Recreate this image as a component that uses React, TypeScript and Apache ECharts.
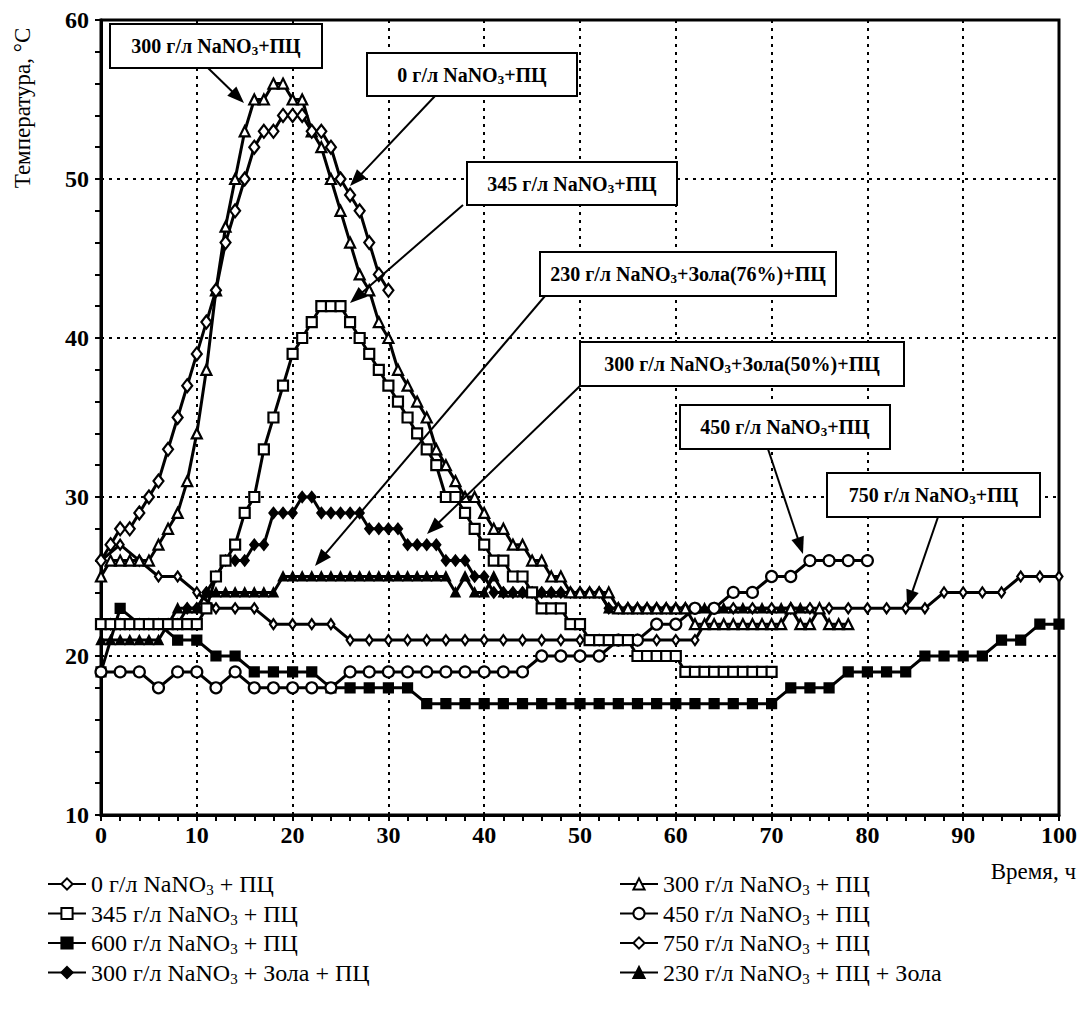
import React, { useEffect, useRef } from 'react';
import * as echarts from 'echarts';

const FONT = '"Liberation Serif", "Times New Roman", serif';

// time grids (hours)
const hours = [0,1,2,3,4,5,6,7,8,9,10,11,12,13,14,15,16,17,18,19,20,21,22,23,24,25,26,27,28,29,30,31,32,33,34,35,36,37,38,39,40,41,42,43,44,45,46,47,48,49,50,51,52,53,54,55,56,57,58,59,60,61,62,63,64,65,66,67,68,69,70,71,72,73,74,75,76,77,78,79,80];
const twoHours = [0,2,4,6,8,10,12,14,16,18,20,22,24,26,28,30,32,34,36,38,40,42,44,46,48,50,52,54,56,58,60,62,64,66,68,70,72,74,76,78,80,82,84,86,88,90,92,94,96,98,100];

// series values (°C)
const v0 = [26,27,28,28,29,30,31,33,35,37,39,41,43,46,48,50,52,53,53,54,54,54,53,53,52,50,49,48,46,44,43];
const v300 = [25,26,26,26,26,26,27,28,29,31,34,38,43,47,50,53,55,55,56,56,55,55,53,52,50,48,46,44,43,41,40,38,37,36,35,33,32,31,30,30,29,28,28,27,27,26,26,25,25,24,24,24,24,24,23,23,23,23,23,23,23,23,22,22,22,22,22,22,22,22,22,22,23,22,22,23,22,22,22];
const v345 = [22,22,22,22,22,22,22,22,22,22,22,23,25,26,27,29,30,33,35,37,39,40,41,42,42,42,41,40,39,38,37,36,35,34,33,32,30,30,29,28,27,26,26,25,25,24,23,23,23,22,22,21,21,21,21,21,20,20,20,20,20,19,19,19,19,19,19,19,19,19,19];
const v450 = [19,19,19,18,19,19,18,19,18,18,18,18,18,19,19,19,19,19,19,19,19,19,19,20,20,20,20,21,21,22,22,23,23,24,24,25,25,26,26,26,26];
const v600 = [19,23,22,22,21,21,20,20,19,19,19,19,18,18,18,18,18,17,17,17,17,17,17,17,17,17,17,17,17,17,17,17,17,17,17,17,18,18,18,19,19,19,19,20,20,20,20,21,21,22,22];
const v750 = [26,27,26,25,25,24,23,23,23,22,22,22,22,21,21,21,21,21,21,21,21,21,21,21,21,21,21,21,21,21,21,21,23,23,23,23,23,23,23,23,23,23,23,23,24,24,24,24,25,25,25];
const v300Z = [22,22,22,22,22,22,22,22,22,23,23,24,25,26,26,26,27,27,29,29,29,30,30,29,29,29,29,29,28,28,28,28,27,27,27,27,26,26,26,25,25,24,24,24,24,24,24,24,24,24,24,24,24,23,23,23,23,23,23,23,23,23,23];
const v230 = [21,21,21,21,21,21,21,22,23,23,23,24,24,24,24,24,24,24,24,25,25,25,25,25,25,25,25,25,25,25,25,25,25,25,25,25,25,24,25,24,24,25,24,24,24,24,24,24,24,24,24,24,24,23,23,23,23,23,23,23,23,23,23,23,23,23,23,23,23,23,23,23,23,23,23];

const xTicks = [0,10,20,30,40,50,60,70,80,90,100];
const yTicks = [10,20,30,40,50,60];

const names = [
  '0 г/л NaNO3 + ПЦ',
  '300 г/л NaNO3 + ПЦ',
  '345 г/л NaNO3 + ПЦ',
  '450 г/л NaNO3 + ПЦ',
  '600 г/л NaNO3 + ПЦ',
  '750 г/л NaNO3 + ПЦ',
  '300 г/л NaNO3 + Зола + ПЦ',
  '230 г/л NaNO3 + ПЦ + Зола',
];

const annLabels = [
  ['300 г/л NaNO', '3', '+ПЦ'],
  ['0 г/л NaNO', '3', '+ПЦ'],
  ['345 г/л NaNO', '3', '+ПЦ'],
  ['230 г/л NaNO', '3', '+Зола(76%)+ПЦ'],
  ['300 г/л NaNO', '3', '+Зола(50%)+ПЦ'],
  ['450 г/л NaNO', '3', '+ПЦ'],
  ['750 г/л NaNO', '3', '+ПЦ'],
];

function pairs(xs: number[], ys: number[]) {
  return ys.map((y, i) => [xs[i], y]);
}

function arrow(x1: number, y1: number, x2: number, y2: number) {
  const dx = x2 - x1, dy = y2 - y1;
  const len = Math.hypot(dx, dy);
  const ux = dx / len, uy = dy / len;
  const L = 17, W = 6.5;
  const bx = x2 - ux * L, by = y2 - uy * L;
  return [
    { type: 'line', z: 100, shape: { x1, y1, x2: bx + ux * 2, y2: by + uy * 2 }, style: { stroke: '#000', lineWidth: 2 } },
    { type: 'polygon', z: 100, shape: { points: [[x2, y2], [bx - uy * W, by + ux * W], [bx + uy * W, by - ux * W]] }, style: { fill: '#000' } },
  ];
}

export default function App() {
  const ref = useRef<HTMLDivElement>(null);
  useEffect(() => {
    if (!ref.current) return;
    const chart = echarts.init(ref.current, undefined, { renderer: 'svg' });

    const mk = (name: string, data: number[][], symbol: string, size: any, filled: boolean) => ({
      name,
      type: 'line',
      data,
      symbol,
      symbolSize: size,
      showSymbol: true,
      lineStyle: { color: '#000', width: 3 },
      itemStyle: { color: filled ? '#000' : '#fff', borderColor: '#000', borderWidth: 2.2 },
      emphasis: { disabled: true },
    });

    const series = [
      mk(names[4], pairs(twoHours, v600), 'rect', 9, true),
      mk(names[6], pairs(hours, v300Z), 'diamond', [8, 10], true),
      mk(names[7], pairs(hours, v230), 'triangle', 8, true),
      mk(names[5], pairs(twoHours, v750), 'diamond', [7, 10], false),
      mk(names[3], pairs(twoHours, v450), 'circle', 11, false),
      mk(names[2], pairs(hours, v345), 'rect', 10, false),
      mk(names[1], pairs(hours, v300), 'triangle', 10, false),
      mk(names[0], pairs(hours, v0), 'diamond', [10, 13], false),
    ];

    const legendText = {
      fontFamily: FONT,
      fontSize: 24,
      color: '#000',
      rich: {
        t: { fontFamily: FONT, fontSize: 24, color: '#000' },
        s: { fontFamily: FONT, fontSize: 15, color: '#000', padding: [12, 0, 0, 0] },
      },
    };
    const legendFmt = (n: string) => '{t|' + n.replace('NaNO3', 'NaNO}{s|3}{t|') + '}';

    // annotation layout (pixels)
    const boxes = [
      { r: [110, 24, 212, 44], from: [208, 68], to: [244, 103] },
      { r: [367, 53, 210, 43], from: [435, 96], to: [350, 186] },
      { r: [467, 162, 210, 43], from: [463, 205], to: [350, 303] },
      { r: [540, 252, 296, 44], from: [545, 296], to: [315, 566] },
      { r: [580, 342, 324, 44], from: [580, 386], to: [427, 534] },
      { r: [680, 405, 210, 44], from: [768, 449], to: [803, 554] },
      { r: [827, 473, 213, 44], from: [938, 517], to: [907, 607] },
    ];
    const graphic: any[] = [];
    boxes.forEach((b, i) => {
      graphic.push(...arrow(b.from[0], b.from[1], b.to[0], b.to[1]));
      graphic.push({
        type: 'rect', z: 101,
        shape: { x: b.r[0], y: b.r[1], width: b.r[2], height: b.r[3] },
        style: { fill: '#fff', stroke: '#000', lineWidth: 2 },
      });
      const l = annLabels[i];
      graphic.push({
        type: 'text', z: 102,
        x: b.r[0] + b.r[2] / 2, y: b.r[1] + b.r[3] / 2,
        style: {
          text: '{t|' + l[0] + '}{s|' + l[1] + '}{t|' + l[2] + '}',
          align: 'center', verticalAlign: 'middle',
          rich: {
            t: { fontFamily: FONT, fontSize: 20, fontWeight: 'bold', fill: '#000' },
            s: { fontFamily: FONT, fontSize: 13, fontWeight: 'bold', fill: '#000', padding: [9, 0, 0, 0] },
          },
        },
      });
    });
    graphic.push({
      type: 'text', z: 102, x: 22, y: 108, rotation: Math.PI / 2,
      style: { text: 'Температура, °С', fontFamily: FONT, fontSize: 23, fill: '#000', align: 'center', verticalAlign: 'middle' },
    });
    graphic.push({
      type: 'text', z: 102, x: 1076, y: 871,
      style: { text: 'Время, ч', fontFamily: FONT, fontSize: 23, fill: '#000', align: 'right', verticalAlign: 'middle' },
    });

    const axisLabel = { fontFamily: FONT, fontSize: 24, fontWeight: 'bold', color: '#000' };
    const splitLine = { show: true, lineStyle: { color: '#000', width: 2, type: [3, 5] } };

    chart.setOption({
      animation: false,
      backgroundColor: '#fff',
      grid: { left: 101, right: 28, top: 20, bottom: 197, show: true, borderColor: '#000', borderWidth: 3, backgroundColor: 'transparent' },
      xAxis: {
        type: 'value', min: xTicks[0], max: xTicks[xTicks.length - 1], interval: 10,
        axisLine: { show: true, lineStyle: { color: '#000', width: 3 } },
        axisTick: { show: true, length: 6, lineStyle: { color: '#000', width: 2 } },
        minorTick: { show: true, splitNumber: 5, length: 6, lineStyle: { color: '#000', width: 2 } },
        axisLabel: { ...axisLabel, margin: 8 },
        splitLine,
      },
      yAxis: {
        type: 'value', min: yTicks[0], max: yTicks[yTicks.length - 1], interval: 10,
        axisLine: { show: true, lineStyle: { color: '#000', width: 3 } },
        axisTick: { show: true, length: 6, lineStyle: { color: '#000', width: 2 } },
        minorTick: { show: true, splitNumber: 5, length: 6, lineStyle: { color: '#000', width: 2 } },
        axisLabel: { ...axisLabel, margin: 12 },
        splitLine,
      },
      legend: [
        {
          data: [names[0], names[2], names[4], names[6]],
          orient: 'vertical', left: 42, top: 867, itemGap: 4, itemWidth: 38, itemHeight: 14,
          textStyle: legendText, formatter: legendFmt, selectedMode: false,
        },
        {
          data: [names[1], names[3], names[5], names[7]],
          orient: 'vertical', left: 614, top: 867, itemGap: 4, itemWidth: 38, itemHeight: 14,
          textStyle: legendText, formatter: legendFmt, selectedMode: false,
        },
      ],
      series,
      graphic,
    });
    return () => chart.dispose();
  }, []);
  return <div ref={ref} style={{ position: 'absolute', left: 0, top: 0, width: 1087, height: 1012, background: '#fff' }} />;
}
